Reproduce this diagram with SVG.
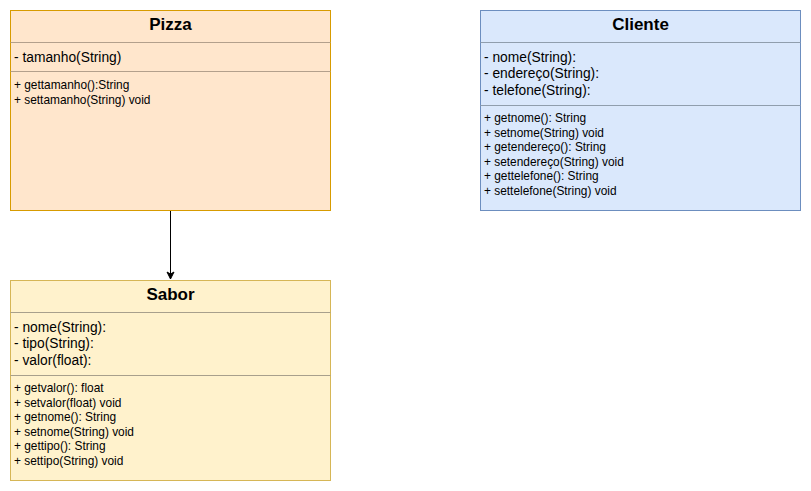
<svg xmlns="http://www.w3.org/2000/svg" width="811" height="491" viewBox="0 0 811 491">
<style>
text { font-family: "Liberation Sans", Arial, sans-serif; fill: #000; }
.title { font-size: 17px; font-weight: bold; text-anchor: middle; }
.attr { font-size: 13.8px; }
.meth { font-size: 11.9px; }
.div { stroke-width: 1; }
</style>
<defs>
<marker id="arr" markerWidth="10" markerHeight="10" refX="8" refY="5" orient="auto" markerUnits="userSpaceOnUse">
<path d="M1,1.5 L8,5 L1,8.5 L3,5 Z" fill="#000" stroke="#000" stroke-width="1"/>
</marker>
</defs>
<rect width="811" height="491" fill="#fff"/>
<g id="connectors">
<line x1="170.5" y1="210.5" x2="170.5" y2="279" stroke="#000" stroke-width="1" marker-end="url(#arr)"/>
</g>
<g id="Pizza">
<rect x="10.5" y="10.5" width="320" height="200" fill="#ffe6cc" stroke="#d79b00"/>
<line x1="10.5" y1="42.5" x2="330.5" y2="42.5" stroke="#b3a08c"/>
<line x1="10.5" y1="71.5" x2="330.5" y2="71.5" stroke="#b3a08c"/>
<text class="title" x="170.5" y="30">Pizza</text>
<text class="attr" x="14" y="62">- tamanho(String)</text>
<text class="meth" x="14" y="89">+ gettamanho():String</text>
<text class="meth" x="14" y="103.5">+ settamanho(String) void</text>
</g>
<g id="Cliente">
<rect x="480.5" y="10.5" width="320" height="200" fill="#dae8fc" stroke="#6c8ebf"/>
<line x1="480.5" y1="42.5" x2="800.5" y2="42.5" stroke="#909ead"/>
<line x1="480.5" y1="105.5" x2="800.5" y2="105.5" stroke="#909ead"/>
<text class="title" x="640.5" y="30">Cliente</text>
<text class="attr" x="484" y="62">- nome(String):</text>
<text class="attr" x="484" y="78.3">- endereço(String):</text>
<text class="attr" x="484" y="94.6">- telefone(String):</text>
<text class="meth" x="484" y="122">+ getnome(): String</text>
<text class="meth" x="484" y="136.5">+ setnome(String) void</text>
<text class="meth" x="484" y="151">+ getendereço(): String</text>
<text class="meth" x="484" y="165.5">+ setendereço(String) void</text>
<text class="meth" x="484" y="180">+ gettelefone(): String</text>
<text class="meth" x="484" y="194.5">+ settelefone(String) void</text>
</g>
<g id="Sabor">
<rect x="10.5" y="280.5" width="320" height="200" fill="#fff2cc" stroke="#d6b656"/>
<line x1="10.5" y1="312.5" x2="330.5" y2="312.5" stroke="#a8a08c"/>
<line x1="10.5" y1="375.5" x2="330.5" y2="375.5" stroke="#a8a08c"/>
<text class="title" x="170.5" y="300">Sabor</text>
<text class="attr" x="14" y="332">- nome(String):</text>
<text class="attr" x="14" y="348.3">- tipo(String):</text>
<text class="attr" x="14" y="364.6">- valor(float):</text>
<text class="meth" x="14" y="392">+ getvalor(): float</text>
<text class="meth" x="14" y="406.5">+ setvalor(float) void</text>
<text class="meth" x="14" y="421">+ getnome(): String</text>
<text class="meth" x="14" y="435.5">+ setnome(String) void</text>
<text class="meth" x="14" y="450">+ gettipo(): String</text>
<text class="meth" x="14" y="464.5">+ settipo(String) void</text>
</g>
</svg>
